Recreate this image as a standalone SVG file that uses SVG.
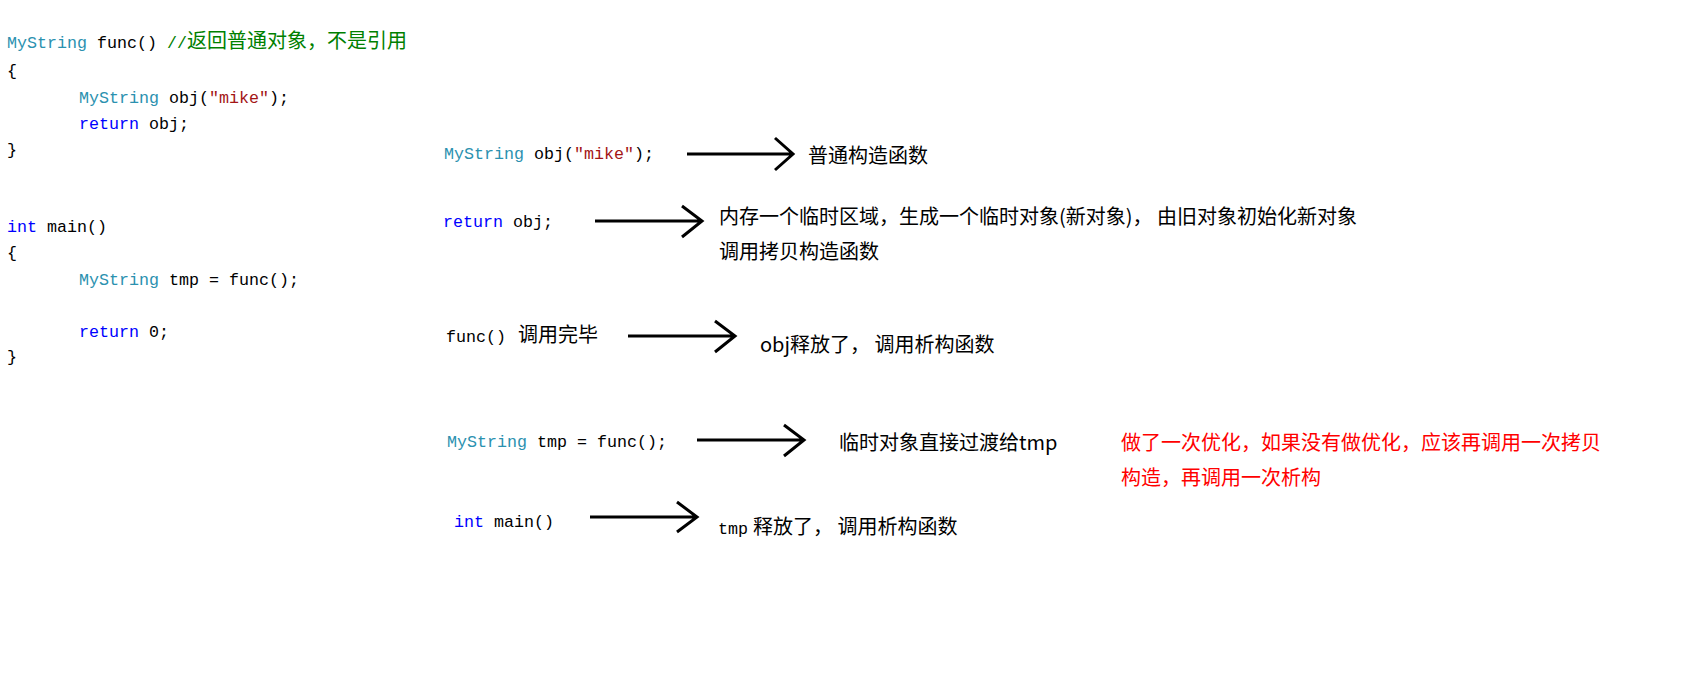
<svg xmlns="http://www.w3.org/2000/svg" width="1691" height="691" viewBox="0 0 1691 691">
<style>
.code{font-family:"Liberation Mono","DejaVu Sans Mono","Noto Sans CJK SC",monospace;font-size:16.67px;fill:#000;}
.cjk{font-family:"Noto Sans CJK SC","Noto Sans",sans-serif;font-size:20px;}
.lbl{font-family:"Noto Sans CJK SC","Noto Sans",sans-serif;font-size:20px;fill:#000;}
.red{fill:#ff0000;}
.t{fill:#2b91af;}
.k{fill:#0000ff;}
.s{fill:#a31515;}
.c{fill:#008000;}
.arrow{fill:none;stroke:#000;stroke-width:3;}
</style>
<rect width="1691" height="691" fill="#fff"/>
<g id="code-func">
<text class="code" x="7" y="48"><tspan class="t">MyString</tspan> func() <tspan class="c">//</tspan><tspan class="c cjk">返回普通对象，不是引用</tspan></text>
<text class="code" x="7" y="76">{</text>
<text class="code" x="79" y="103"><tspan class="t">MyString</tspan> obj(<tspan class="s">"mike"</tspan>);</text>
<text class="code" x="79" y="129"><tspan class="k">return</tspan> obj;</text>
<text class="code" x="7" y="155">}</text>
</g>
<g id="code-main">
<text class="code" x="7" y="232"><tspan class="k">int</tspan> main()</text>
<text class="code" x="7" y="258">{</text>
<text class="code" x="79" y="285"><tspan class="t">MyString</tspan> tmp = func();</text>
<text class="code" x="79" y="337"><tspan class="k">return</tspan> 0;</text>
<text class="code" x="7" y="362">}</text>
</g>
<g id="step1">
<text class="code" x="444" y="159"><tspan class="t">MyString</tspan> obj(<tspan class="s">"mike"</tspan>);</text>
<text class="lbl" x="808" y="163">普通构造函数</text>
</g>
<g id="step2">
<text class="code" x="443" y="227"><tspan class="k">return</tspan> obj;</text>
<text class="lbl" x="719" y="224">内存一个临时区域，生成一个临时对象(新对象)， 由旧对象初始化新对象</text>
<text class="lbl" x="719" y="259">调用拷贝构造函数</text>
</g>
<g id="step3">
<text class="code" x="446" y="342">func()<tspan class="cjk" x="518">调用完毕</tspan></text>
<text class="lbl" x="760" y="352">obj释放了， 调用析构函数</text>
</g>
<g id="step4">
<text class="code" x="447" y="447"><tspan class="t">MyString</tspan> tmp = func();</text>
<text class="lbl" x="839" y="450">临时对象直接过渡给tmp</text>
</g>
<g id="note">
<text class="lbl red" x="1121" y="450">做了一次优化，如果没有做优化，应该再调用一次拷贝</text>
<text class="lbl red" x="1121" y="485">构造，再调用一次析构</text>
</g>
<g id="step5">
<text class="code" x="454" y="527"><tspan class="k">int</tspan> main()</text>
<text class="code" x="718" y="534">tmp<tspan class="cjk" x="753">释放了， 调用析构函数</tspan></text>
</g>
<g id="connectors">
<path class="arrow" d="M687 154H793M775 138L793 154L775 170"/>
<path class="arrow" d="M595 221H702M682 206L702 221L682 237"/>
<path class="arrow" d="M628 336H735M715 321L735 336L715 352"/>
<path class="arrow" d="M697 440H804M784 425L804 440L784 456"/>
<path class="arrow" d="M590 517H697M677 502L697 517L677 532"/>
</g>
</svg>
